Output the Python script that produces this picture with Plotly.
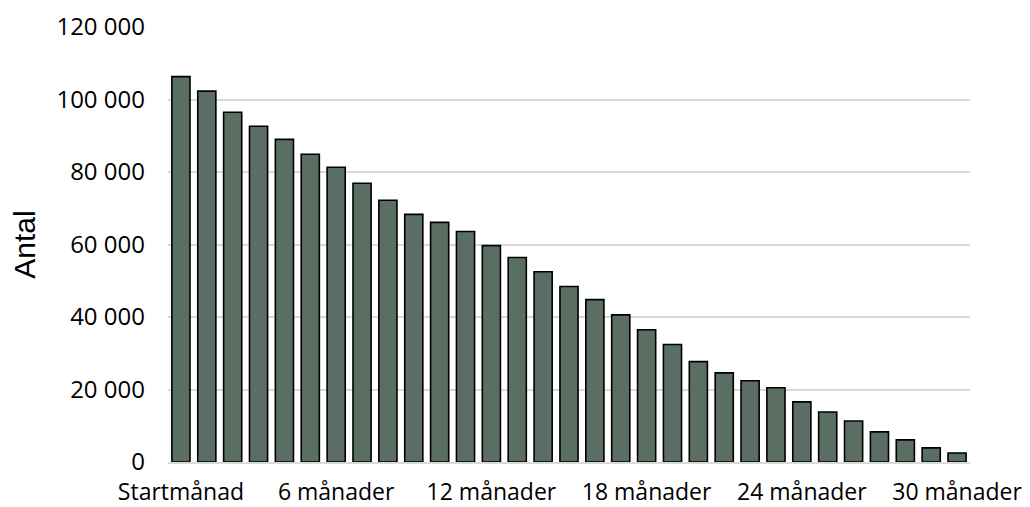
import plotly.graph_objects as go

months = list(range(0, 31))
values = [106300, 102300, 96500, 92600, 89000, 84900, 81300, 76900, 72200, 68300,
          66100, 63600, 59700, 56400, 52500, 48400, 44800, 40600, 36500, 32400,
          27700, 24600, 22400, 20500, 16600, 13800, 11300, 8300, 6100, 3900, 2500]
tick_positions = [0, 6, 12, 18, 24, 30]
tick_labels = ["Startmånad", "6 månader", "12 månader", "18 månader", "24 månader", "30 månader"]
y_ticks = [0, 20000, 40000, 60000, 80000, 100000, 120000]
y_tick_labels = ["0", "20 000", "40 000", "60 000", "80 000", "100 000", "120 000"]

fig = go.Figure(go.Bar(
    x=months, y=values,
    marker=dict(color="#5a6e64", line=dict(color="#000000", width=1.6)),
    hoverinfo="x+y",
))

fig.update_layout(
    width=1022, height=499,
    margin=dict(l=160, r=60, t=19, b=45),
    plot_bgcolor="white", paper_bgcolor="white",
    bargap=0.3,
    showlegend=False,
    font=dict(family="Open Sans", size=23, color="#000000"),
)
fig.update_xaxes(
    range=[-0.5, 30.5], automargin=False,
    tickmode="array", tickvals=tick_positions, ticktext=tick_labels,
    showgrid=False, showline=True, linecolor="#d9d9d9", linewidth=1.5,
    ticks="", ticklabelstandoff=9, ticklabeloverflow="allow",
    tickfont=dict(family="Open Sans", size=23, color="#000000"),
)
fig.update_yaxes(
    range=[0, 120000], automargin=False,
    tickmode="array", tickvals=y_ticks, ticktext=y_tick_labels,
    showgrid=True, gridcolor="#d9d9d9", gridwidth=1.5,
    zeroline=False, showline=False, ticks="", ticklabelstandoff=22,
    ticklabeloverflow="allow",
    tickfont=dict(family="Open Sans", size=24, color="#000000"),
    title=dict(text="Antal", font=dict(family="Liberation Sans", size=30, color="#000000"), standoff=20),
)

fig.write_html("out.html")
